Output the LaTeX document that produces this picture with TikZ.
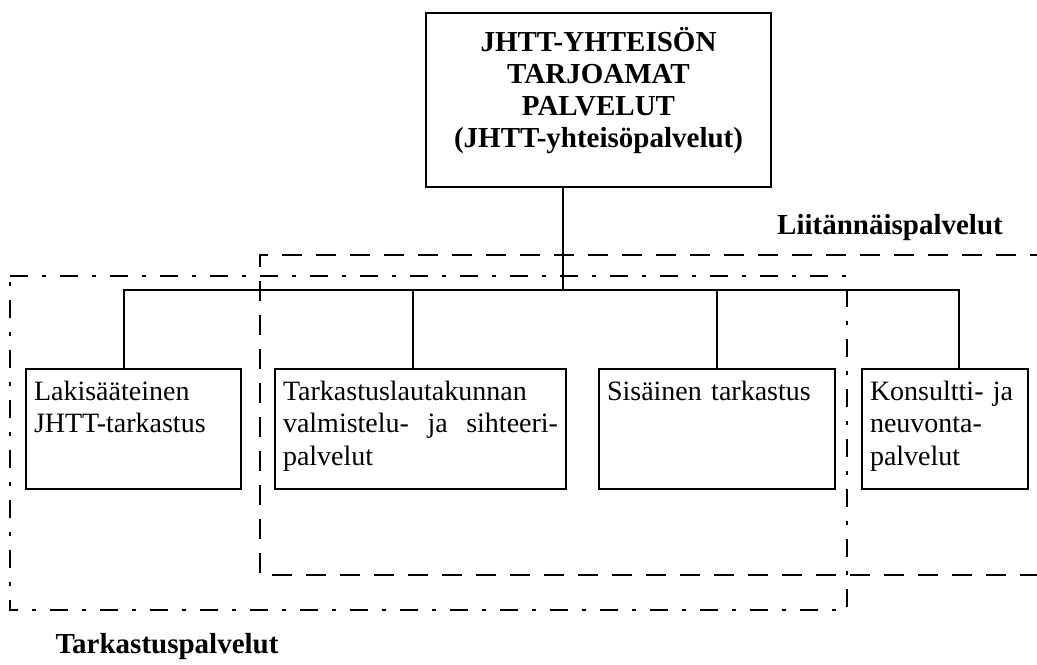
\documentclass[tikz,border=0pt]{standalone}
\usepackage{fontspec}
\setmainfont{Liberation Serif}
\tikzset{
  box/.style={draw, line width=1pt, anchor=north west, align=left,
    inner xsep=4pt, inner ysep=5.5pt, text height=10pt, text depth=39pt,
    font=\fontsize{14}{16.25}\selectfont},
  topbox/.style={draw, line width=1pt, anchor=north west, align=center,
    minimum width=172.5pt, inner ysep=4pt, text height=63pt, text depth=16pt,
    font=\fontsize{14.5}{16}\selectfont\bfseries},
  grouplabel/.style={inner sep=0pt, font=\fontsize{14.5}{16}\selectfont\bfseries},
  wire/.style={line width=1pt},
  auditgroup/.style={line width=1.4pt, dash pattern=on 9pt off 7pt on 2pt off 7pt},
  addongroup/.style={line width=1.4pt, dash pattern=on 10pt off 7pt}
}
\begin{document}
\begin{tikzpicture}[x=0.50pt,y=0.50pt,yscale=-1,xscale=1]
\useasboundingbox (0,0) rectangle (1037,664);

%Shape: Dash dot rectangle
\draw [auditgroup] (10,276) -- (847,276) -- (847,610) -- (10,610) -- cycle ;
%Shape: Dashed open rectangle
\draw [addongroup] (1050,255) -- (260,255) -- (260,575) -- (1050,575) ;

% Text Node
\node [topbox] (jhtt) at (425,12) {JHTT-YHTEISÖN\\TARJOAMAT\\PALVELUT\\(JHTT-yhteisöpalvelut)};
% Text Node
\node [box, text width=99.5pt] (lakis) at (25,368) {Lakisääteinen\\JHTT-tarkastus};
% Text Node
\node [box, text width=137.5pt] (ltk) at (274,368) {Tarkastuslautakunnan\\valmistelu-\hfill ja\hfill sihteeri-\\palvelut};
% Text Node
\node [box, text width=110pt] (sis) at (598,368) {Sisäinen tarkastus};
% Text Node
\node [box, text width=75pt] (kons) at (861,368) {Konsultti- ja\\neuvonta-\\palvelut};

%Straight Lines
\coordinate (bus) at (563,290);
\draw [wire] (jhtt.south -| bus) -- (bus) ;
\draw [wire] (bus) -| ([xshift=-5pt]lakis.north) ;
\draw [wire] (bus) -| ([xshift=-4pt]ltk.north) ;
\draw [wire] (bus) -| (sis.north) ;
\draw [wire] (bus) -| ([xshift=7pt]kons.north) ;

% Text Node
\node [grouplabel] (liit) at (890,228) {Liitännäispalvelut};
% Text Node
\node [grouplabel] (tark) at (167,647) {Tarkastuspalvelut};

\end{tikzpicture}
\end{document}
